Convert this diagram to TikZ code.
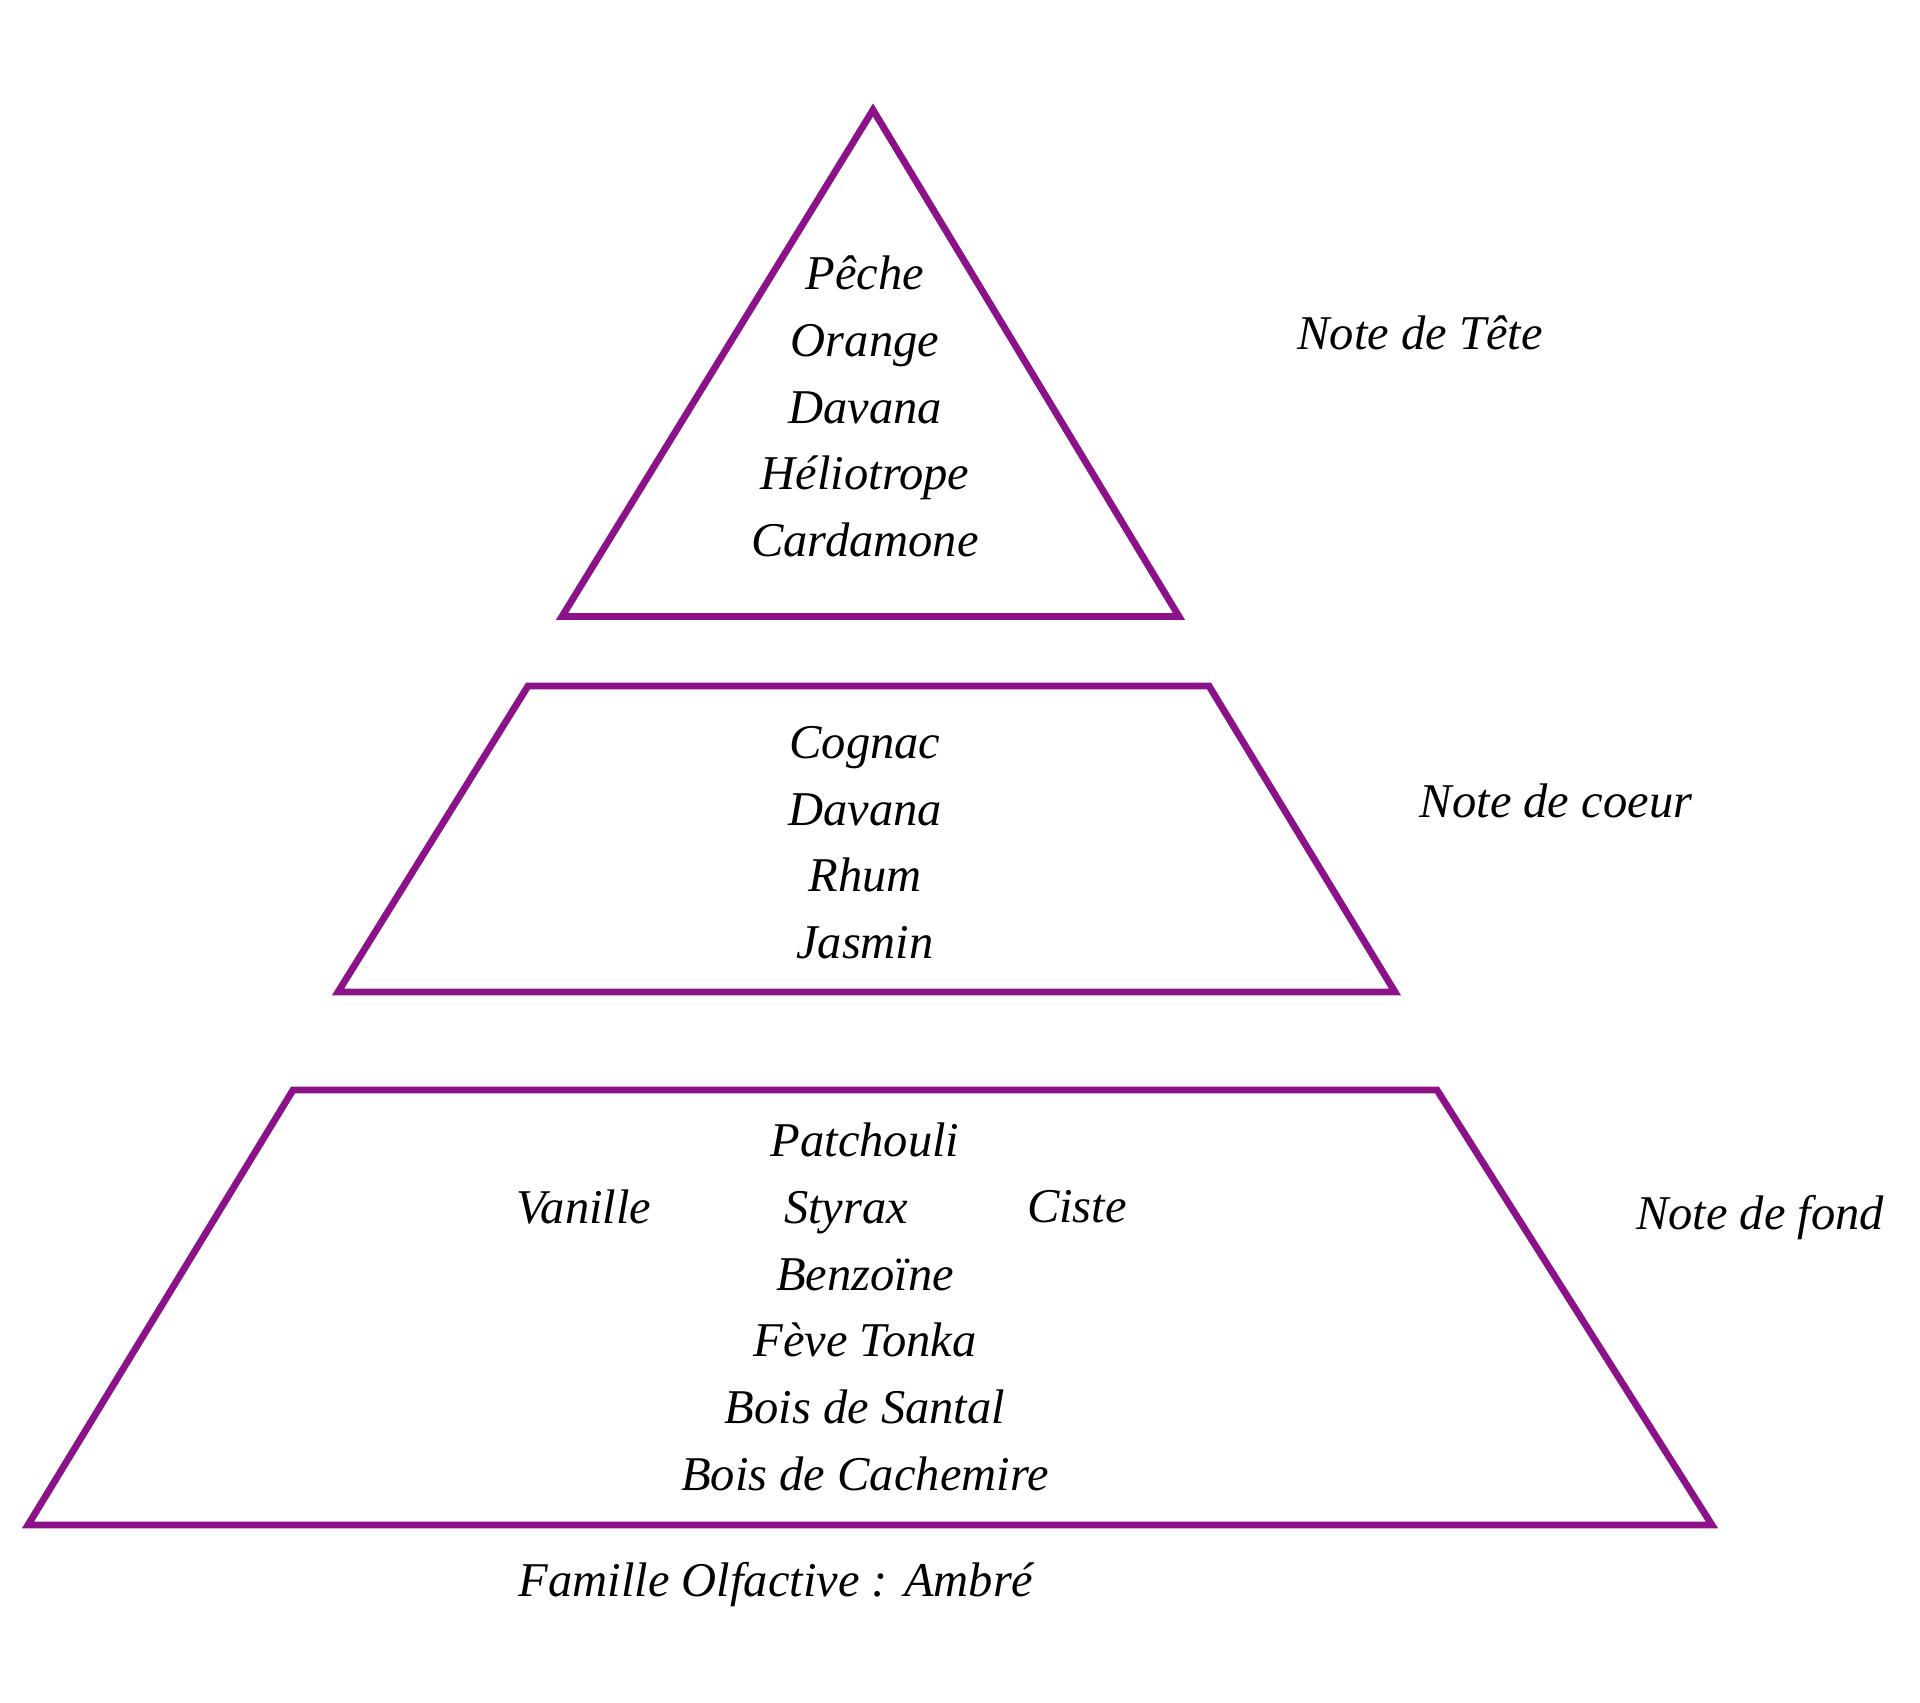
\documentclass[tikz,border=0pt]{standalone}
\usepackage{fontspec}
\setmainfont{Liberation Serif}
\usepackage{tikz}
\usetikzlibrary{calc}
\definecolor{pourpre}{RGB}{139,18,136}

\begin{document}
\begin{tikzpicture}[x=0.01cm,y=-0.01cm,
  etage/.style={draw=pourpre,line width=1.95pt,line join=miter},
  note/.style={font=\fontsize{13.8}{17}\selectfont\itshape,anchor=base,inner sep=0pt}]
\useasboundingbox (0,0) rectangle (1920,1703);
% note de tete
\begin{scope}
\draw[etage](873,110)--(1179,616.5)--(562,616.5)--cycle;
\node[note](T1) at (865,290){Pêche};
\node[note](T2) at (865,356.5){Orange};
\node[note](T3) at (865,423){Davana};
\node[note](T4) at (865,489.5){Héliotrope};
\node[note](T5) at (865,556){Cardamone};
\node[note](T) at (1420,350){Note de Tête};
\end{scope}
% note de coeur
\begin{scope}
\draw[etage](528,686)--(1209,686)--(1395,992)--(338,992)--cycle;
\node[note](C1) at (865,758){Cognac};
\node[note](C2) at (865,825){Davana};
\node[note](C3) at (865,891){Rhum};
\node[note](C4) at (865,958){Jasmin};
\node[note](C) at (1556,817){Note de coeur};
\end{scope}
% note de fond
\begin{scope}
\draw[etage](293,1090)--(1437,1090)--(1712,1525)--(28,1525)--cycle;
\node[note](F1) at (865,1156){Patchouli};
\node[note](F2) at (584,1223){Vanille};
\node[note](F3) at (846,1223){Styrax};
\node[note](F4) at (1077,1222){Ciste};
\node[note](F5) at (865,1290){Benzoïne};
\node[note](F6) at (865,1356){Fève Tonka};
\node[note](F7) at (865,1423){Bois de Santal};
\node[note](F8) at (865,1490){Bois de Cachemire};
\node[note](F) at (1760,1229){Note de fond};
\end{scope}
\node[note](famille) at (776,1596){Famille Olfactive : Ambré};
\end{tikzpicture}
\end{document}
